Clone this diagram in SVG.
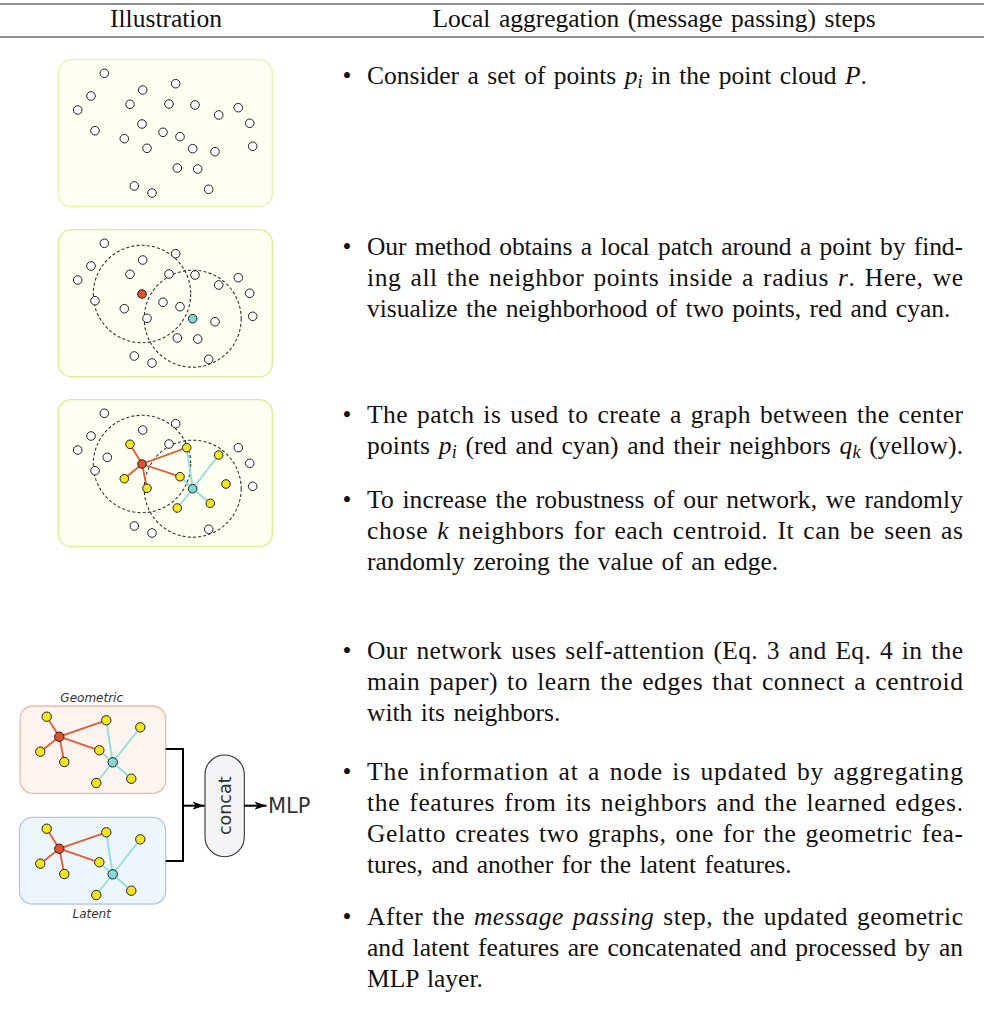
<svg xmlns="http://www.w3.org/2000/svg" width="984" height="1027" viewBox="0 0 984 1027">
<style>
.t{font-family:"Liberation Serif","Times New Roman",serif;font-size:25.5px;fill:#111;word-spacing:2.1px}
.it{font-style:italic}
.sb{font-size:18px;font-style:italic}
.pt{fill:#fff;stroke:#222;stroke-width:1}
.yl{fill:#f4e521;stroke:#222;stroke-width:1}
.rd{fill:#e0502a;stroke:#222;stroke-width:1}
.cy{fill:#80d9d2;stroke:#222;stroke-width:1}
.er{stroke:#e65a32;stroke-width:1.8;fill:none}
.ec{stroke:#90dedd;stroke-width:1.8;fill:none}
.dc{fill:none;stroke:#333;stroke-width:1.1;stroke-dasharray:3 2.2}
.pan{fill:#fdfff0;stroke:#dcec8e;stroke-width:1.3}
.sans{font-family:"DejaVu Sans",Verdana,sans-serif;fill:#333}
.ln{stroke:#000;stroke-width:2;fill:none}
</style>
<defs>
<marker id="ah" markerWidth="14" markerHeight="10" refX="12" refY="5" orient="auto" markerUnits="userSpaceOnUse">
<path d="M0,1 L12,5 L0,9 L3,5 Z" fill="#000"/>
</marker>
<g id="cloudA">
<circle class="pt" cx="104.3" cy="73.3" r="4.3"/>
<circle class="pt" cx="91" cy="96" r="4.3"/>
<circle class="pt" cx="77.7" cy="110" r="4.3"/>
<circle class="pt" cx="142.7" cy="90" r="4.3"/>
<circle class="pt" cx="175.7" cy="83.7" r="4.3"/>
<circle class="pt" cx="130" cy="104.3" r="4.3"/>
<circle class="pt" cx="169" cy="104" r="4.3"/>
<circle class="pt" cx="195" cy="105" r="4.3"/>
<circle class="pt" cx="238.3" cy="107.7" r="4.3"/>
<circle class="pt" cx="218.7" cy="115" r="4.3"/>
<circle class="pt" cx="249.7" cy="123.3" r="4.3"/>
<circle class="pt" cx="95" cy="130.7" r="4.3"/>
<circle class="pt" cx="124.3" cy="138.7" r="4.3"/>
<circle class="pt" cx="163" cy="132.3" r="4.3"/>
<circle class="pt" cx="180" cy="136.7" r="4.3"/>
<circle class="pt" cx="147" cy="148.3" r="4.3"/>
<circle class="pt" cx="215" cy="151.7" r="4.3"/>
<circle class="pt" cx="252.7" cy="146.3" r="4.3"/>
<circle class="pt" cx="177.3" cy="168" r="4.3"/>
<circle class="pt" cx="197.7" cy="169" r="4.3"/>
<circle class="pt" cx="134.3" cy="186" r="4.3"/>
<circle class="pt" cx="152" cy="193" r="4.3"/>
<circle class="pt" cx="208.7" cy="189.3" r="4.3"/>
</g>
<g id="graphG">
<line class="er" x1="59.3" y1="736.7" x2="46.7" y2="716.7"/>
<line class="er" x1="59.3" y1="736.7" x2="40.3" y2="751.7"/>
<line class="er" x1="59.3" y1="736.7" x2="64.3" y2="762"/>
<line class="er" x1="59.3" y1="736.7" x2="106.3" y2="720.3"/>
<line class="er" x1="59.3" y1="736.7" x2="99.3" y2="750.3"/>
<line class="ec" x1="112.7" y1="762.3" x2="106.3" y2="720.3"/>
<line class="ec" x1="112.7" y1="762.3" x2="140.3" y2="727.3"/>
<line class="ec" x1="112.7" y1="762.3" x2="99.3" y2="750.3"/>
<line class="ec" x1="112.7" y1="762.3" x2="96.3" y2="783"/>
<line class="ec" x1="112.7" y1="762.3" x2="131.3" y2="778.7"/>
<circle class="yl" cx="46.7" cy="716.7" r="4.7"/>
<circle class="yl" cx="40.3" cy="751.7" r="4.7"/>
<circle class="yl" cx="64.3" cy="762" r="4.7"/>
<circle class="yl" cx="106.3" cy="720.3" r="4.7"/>
<circle class="yl" cx="99.3" cy="750.3" r="4.7"/>
<circle class="yl" cx="140.3" cy="727.3" r="4.7"/>
<circle class="yl" cx="96.3" cy="783" r="4.7"/>
<circle class="yl" cx="131.3" cy="778.7" r="4.7"/>
<circle class="rd" cx="59.3" cy="736.7" r="4.7"/>
<circle class="cy" cx="112.7" cy="762.3" r="4.7"/>
</g>
</defs>

<!-- header -->
<g id="header">
<line x1="0" y1="4" x2="984" y2="4" stroke="#222" stroke-width="1.2"/>
<line x1="0" y1="37" x2="984" y2="37" stroke="#222" stroke-width="1.2"/>
<text class="t" x="166" y="27" text-anchor="middle">Illustration</text>
<text class="t" x="654" y="27" text-anchor="middle">Local aggregation (message passing) steps</text>
</g>

<!-- panel 1 -->
<g id="panel1">
<rect x="58.3" y="59.7" width="214" height="147" rx="13" fill="#fdfff0" stroke="#e6f2b0" stroke-width="1.3"/>
<use href="#cloudA"/>
<circle class="pt" cx="142" cy="124" r="4.3"/>
<circle class="pt" cx="192.7" cy="148.7" r="4.3"/>
</g>

<!-- panel 2 -->
<g id="panel2">
<rect class="pan" x="58.3" y="229.7" width="214" height="147" rx="13"/>
<circle class="dc" cx="142" cy="294" r="48.7"/>
<circle class="dc" cx="192.7" cy="318.7" r="48.5"/>
<use href="#cloudA" y="170"/>
<circle class="rd" cx="142" cy="294" r="4.3"/>
<circle class="cy" cx="192.7" cy="318.7" r="4.3"/>
</g>

<!-- panel 3 -->
<g id="panel3">
<rect class="pan" x="58.3" y="399.7" width="214" height="147" rx="13"/>
<circle class="dc" cx="142" cy="464" r="48.7"/>
<circle class="dc" cx="192.7" cy="488.7" r="48.5"/>
<line class="er" x1="142" y1="464" x2="130" y2="444.3"/>
<line class="er" x1="142" y1="464" x2="186.7" y2="447.7"/>
<line class="er" x1="142" y1="464" x2="124.3" y2="478.7"/>
<line class="er" x1="142" y1="464" x2="147" y2="488.3"/>
<line class="er" x1="142" y1="464" x2="180" y2="476.7"/>
<line class="ec" x1="192.7" y1="488.7" x2="186.7" y2="447.7"/>
<line class="ec" x1="192.7" y1="488.7" x2="218.7" y2="455"/>
<line class="ec" x1="192.7" y1="488.7" x2="180" y2="476.7"/>
<line class="ec" x1="192.7" y1="488.7" x2="177.3" y2="508"/>
<line class="ec" x1="192.7" y1="488.7" x2="210.3" y2="503.3"/>
<circle class="pt" cx="104.3" cy="413.3" r="4.3"/>
<circle class="pt" cx="91" cy="436" r="4.3"/>
<circle class="pt" cx="77.7" cy="450" r="4.3"/>
<circle class="pt" cx="142.7" cy="430" r="4.3"/>
<circle class="pt" cx="175.7" cy="423.7" r="4.3"/>
<circle class="pt" cx="169" cy="444" r="4.3"/>
<circle class="pt" cx="238.3" cy="447.7" r="4.3"/>
<circle class="pt" cx="249.7" cy="463.3" r="4.3"/>
<circle class="pt" cx="107.3" cy="457.3" r="4.3"/>
<circle class="pt" cx="95" cy="470.7" r="4.3"/>
<circle class="pt" cx="252.7" cy="486.3" r="4.3"/>
<circle class="pt" cx="134.3" cy="526" r="4.3"/>
<circle class="pt" cx="152" cy="533" r="4.3"/>
<circle class="pt" cx="208.7" cy="529.3" r="4.3"/>
<circle class="yl" cx="130" cy="444.3" r="4.3"/>
<circle class="yl" cx="186.7" cy="447.7" r="4.3"/>
<circle class="yl" cx="218.7" cy="455" r="4.3"/>
<circle class="yl" cx="124.3" cy="478.7" r="4.3"/>
<circle class="yl" cx="180" cy="476.7" r="4.3"/>
<circle class="yl" cx="147" cy="488.3" r="4.3"/>
<circle class="yl" cx="226" cy="484" r="4.3"/>
<circle class="yl" cx="177.3" cy="508" r="4.3"/>
<circle class="yl" cx="210.3" cy="503.3" r="4.3"/>
<circle class="rd" cx="142" cy="464" r="4.3"/>
<circle class="cy" cx="192.7" cy="488.7" r="4.3"/>
</g>

<!-- bottom figure -->
<g id="geometric">
<rect x="20" y="706" width="145.7" height="87.3" rx="13" fill="#fdf4ef" stroke="#f2b7a6" stroke-width="1.3"/>
<text class="sans" x="91.7" y="701.5" font-size="12" font-style="italic" text-anchor="middle">Geometric</text>
<use href="#graphG"/>
</g>
<g id="latent">
<rect x="19.5" y="817.3" width="146.2" height="86.7" rx="13" fill="#eef6fd" stroke="#b2c6f0" stroke-width="1.3"/>
<text class="sans" x="91.7" y="918.3" font-size="12" font-style="italic" text-anchor="middle">Latent</text>
<use href="#graphG" y="112"/>
</g>
<g id="concat">
<rect x="205" y="755" width="39.3" height="101.7" rx="19.6" fill="#f4f4f6" stroke="#333" stroke-width="1.1"/>
<text class="sans" font-size="17.5" transform="translate(231 805.8) rotate(-90)" text-anchor="middle" fill="#222">concat</text>
</g>
<g id="mlp">
<text class="sans" x="268" y="813" font-size="21" fill="#222">MLP</text>
</g>
<g id="connectors">
<polyline class="ln" points="165.7,749 183,749 183,861 165.7,861"/>
<line class="ln" x1="183" y1="805.7" x2="204.5" y2="805.7" marker-end="url(#ah)"/>
<line class="ln" x1="244.3" y1="805.7" x2="266.5" y2="805.7" marker-end="url(#ah)"/>
</g>

<!-- text column -->
<g id="bullets" class="t">
<text x="347" y="84" text-anchor="middle">•</text>
<text x="347" y="255" text-anchor="middle">•</text>
<text x="347" y="423" text-anchor="middle">•</text>
<text x="347" y="508" text-anchor="middle">•</text>
<text x="347" y="659" text-anchor="middle">•</text>
<text x="347" y="780" text-anchor="middle">•</text>
<text x="347" y="925" text-anchor="middle">•</text>
</g>
<g id="texts">
<text class="t" x="367" y="84">Consider a set of points <tspan class="it">p</tspan><tspan class="sb" dy="4">i</tspan><tspan dy="-4"> in the point cloud </tspan><tspan class="it">P</tspan>.</text>

<text class="t" x="367" y="255" textLength="596" lengthAdjust="spacing">Our method obtains a local patch around a point by find-</text>
<text class="t" x="367" y="286" textLength="596" lengthAdjust="spacing">ing all the neighbor points inside a radius <tspan class="it">r</tspan>.  Here, we</text>
<text class="t" x="367" y="317">visualize the neighborhood of two points, red and cyan.</text>

<text class="t" x="367" y="423" textLength="596" lengthAdjust="spacing">The patch is used to create a graph between the center</text>
<text class="t" x="367" y="454" textLength="596" lengthAdjust="spacing">points <tspan class="it">p</tspan><tspan class="sb" dy="4">i</tspan><tspan dy="-4"> (red and cyan) and their neighbors </tspan><tspan class="it">q</tspan><tspan class="sb" dy="4">k</tspan><tspan dy="-4"> (yellow).</tspan></text>

<text class="t" x="367" y="508" textLength="596" lengthAdjust="spacing">To increase the robustness of our network, we randomly</text>
<text class="t" x="367" y="539" textLength="596" lengthAdjust="spacing">chose <tspan class="it">k</tspan> neighbors for each centroid.  It can be seen as</text>
<text class="t" x="367" y="570">randomly zeroing the value of an edge.</text>

<text class="t" x="367" y="659" textLength="596" lengthAdjust="spacing">Our network uses self-attention (Eq. 3 and Eq. 4 in the</text>
<text class="t" x="367" y="690" textLength="596" lengthAdjust="spacing">main paper) to learn the edges that connect a centroid</text>
<text class="t" x="367" y="721">with its neighbors.</text>

<text class="t" x="367" y="780" textLength="596" lengthAdjust="spacing">The information at a node is updated by aggregating</text>
<text class="t" x="367" y="811" textLength="596" lengthAdjust="spacing">the features from its neighbors and the learned edges.</text>
<text class="t" x="367" y="842" textLength="596" lengthAdjust="spacing">Gelatto creates two graphs, one for the geometric fea-</text>
<text class="t" x="367" y="873">tures, and another for the latent features.</text>

<text class="t" x="367" y="925" textLength="596" lengthAdjust="spacing">After the <tspan class="it">message passing</tspan> step, the updated geometric</text>
<text class="t" x="367" y="956" textLength="596" lengthAdjust="spacing">and latent features are concatenated and processed by an</text>
<text class="t" x="367" y="987">MLP layer.</text>
</g>
</svg>
